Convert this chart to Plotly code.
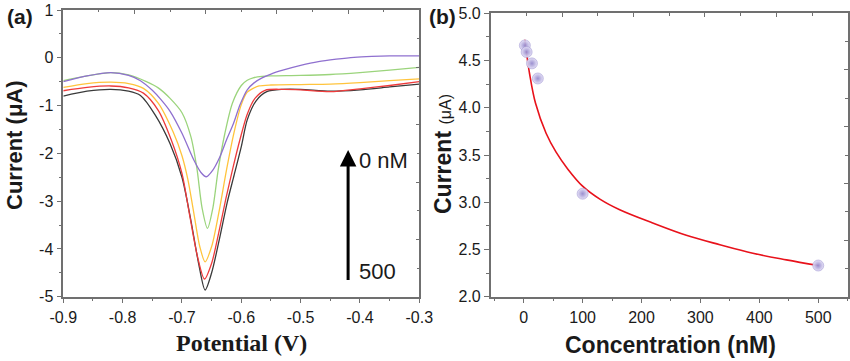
import plotly.graph_objects as go

# ---------------- Panel (a): DPV curves ----------------
pot_500 = [-0.9, -0.86, -0.82, -0.79, -0.77, -0.745, -0.72, -0.70, -0.685, -0.672, -0.661, -0.65, -0.637,
           -0.624, -0.612, -0.60, -0.59, -0.575, -0.557, -0.53, -0.5, -0.45, -0.4, -0.35, -0.3]
cur_500 = [-0.80, -0.70, -0.66, -0.70, -0.79, -1.20, -1.80, -2.50, -3.40, -4.30, -4.86, -4.50, -3.80,
           -3.04, -2.45, -1.86, -1.30, -0.90, -0.71, -0.66, -0.66, -0.70, -0.67, -0.61, -0.55]

pot_red = [-0.9, -0.86, -0.82, -0.79, -0.765, -0.74, -0.718, -0.70, -0.687, -0.674, -0.662, -0.65, -0.638,
           -0.626, -0.614, -0.602, -0.59, -0.577, -0.56, -0.53, -0.5, -0.45, -0.4, -0.35, -0.3]
cur_red = [-0.69, -0.62, -0.59, -0.63, -0.74, -1.10, -1.72, -2.42, -3.30, -4.15, -4.63, -4.30, -3.66,
           -2.95, -2.30, -1.70, -1.18, -0.85, -0.68, -0.66, -0.67, -0.71, -0.65, -0.58, -0.50]

pot_yel = [-0.9, -0.86, -0.82, -0.79, -0.765, -0.74, -0.715, -0.70, -0.69, -0.68, -0.67, -0.661, -0.65,
           -0.638, -0.625, -0.612, -0.60, -0.59, -0.58, -0.57, -0.55, -0.5, -0.45, -0.4, -0.35, -0.3]
cur_yel = [-0.62, -0.54, -0.51, -0.54, -0.64, -0.95, -1.55, -2.05, -2.55, -3.25, -3.95, -4.27, -3.95,
           -3.25, -2.35, -1.55, -0.98, -0.72, -0.64, -0.59, -0.57, -0.56, -0.55, -0.52, -0.48, -0.44]

pot_grn = [-0.9, -0.86, -0.82, -0.79, -0.76, -0.74, -0.72, -0.70, -0.685, -0.675, -0.666, -0.657, -0.648,
           -0.639, -0.628, -0.615, -0.60, -0.59, -0.58, -0.565, -0.55, -0.5, -0.45, -0.4, -0.35, -0.3]
cur_grn = [-0.48, -0.38, -0.31, -0.36, -0.50, -0.63, -0.85, -1.15, -1.65, -2.30, -3.15, -3.57, -3.15,
           -2.35, -1.60, -0.95, -0.58, -0.47, -0.42, -0.39, -0.38, -0.37, -0.35, -0.31, -0.26, -0.20]

pot_pur = [-0.9, -0.86, -0.82, -0.79, -0.77, -0.75, -0.735, -0.72, -0.70, -0.68, -0.668, -0.659, -0.648,
           -0.636, -0.625, -0.613, -0.602, -0.59, -0.578, -0.565, -0.55, -0.53, -0.5, -0.47, -0.44, -0.41,
           -0.38, -0.35, -0.3]
cur_pur = [-0.50, -0.38, -0.31, -0.37, -0.48, -0.68, -0.88, -1.12, -1.58, -2.14, -2.40, -2.49, -2.35,
           -2.07, -1.72, -1.37, -0.98, -0.67, -0.52, -0.42, -0.34, -0.26, -0.16, -0.08, -0.03, 0.01,
           0.03, 0.04, 0.04]

a_xticks = [-0.9, -0.8, -0.7, -0.6, -0.5, -0.4, -0.3]
a_xticktext = ["-0.9", "-0.8", "-0.7", "-0.6", "-0.5", "-0.4", "-0.3"]
a_yticks = [1, 0, -1, -2, -3, -4, -5]
a_yticktext = ["1", "0", "-1", "-2", "-3", "-4", "-5"]

# ---------------- Panel (b): calibration ----------------
conc = [2, 5, 14, 24, 100, 500]
peak_cur = [4.66, 4.59, 4.47, 4.31, 3.09, 2.33]
fit_conc = [2, 5, 10, 20, 38, 55, 75, 100, 130, 163, 219, 276, 333, 389, 446, 500]
fit_cur = [4.72, 4.57, 4.36, 4.05, 3.73, 3.53, 3.35, 3.17, 3.03, 2.92, 2.78, 2.65, 2.55, 2.46, 2.39, 2.33]
b_xticks = [0, 100, 200, 300, 400, 500]
b_yticks = [2.0, 2.5, 3.0, 3.5, 4.0, 4.5, 5.0]

AX = "#707070"
TXT = "#1a1a1a"
TICKFONT = dict(family="Liberation Sans, Arial", size=16, color=TXT)

fig = go.Figure()

curves = [
    (pot_500, cur_500, "#3a3a3a"),
    (pot_red, cur_red, "#ee3b3b"),
    (pot_yel, cur_yel, "#ffc43d"),
    (pot_grn, cur_grn, "#9bd47c"),
    (pot_pur, cur_pur, "#8f70cf"),
]
for px, py, col in curves:
    fig.add_trace(go.Scatter(x=px, y=py, mode="lines", line=dict(color=col, width=1.3, shape="spline", smoothing=0.8),
                             xaxis="x", yaxis="y", showlegend=False, hoverinfo="skip"))

fig.add_trace(go.Scatter(x=fit_conc, y=fit_cur, mode="lines",
                         line=dict(color="#e8121b", width=1.6, shape="spline", smoothing=1.0),
                         xaxis="x2", yaxis="y2", showlegend=False))
fig.add_trace(go.Scatter(x=conc, y=peak_cur, mode="markers",
                         marker=dict(size=11, color="rgba(228,224,246,0.95)",
                                     gradient=dict(type="radial", color="rgba(150,138,205,0.95)"),
                                     line=dict(width=0.6, color="rgba(150,140,205,0.8)")),
                         xaxis="x2", yaxis="y2", showlegend=False))

# empty traces so that overlay (mirror) axes get drawn
fig.add_trace(go.Scatter(x=[], y=[], xaxis="x3", yaxis="y", showlegend=False))
fig.add_trace(go.Scatter(x=[], y=[], xaxis="x", yaxis="y3", showlegend=False))
fig.add_trace(go.Scatter(x=[], y=[], xaxis="x4", yaxis="y2", showlegend=False))
fig.add_trace(go.Scatter(x=[], y=[], xaxis="x2", yaxis="y4", showlegend=False))

W, H = 850, 361
dom_ax = [63.3 / W, 419.3 / W]
dom_ay = [1 - 296.7 / H, 1 - 10 / H]
dom_bx = [490.7 / W, 847.7 / W]
dom_by = [1 - 296.7 / H, 1 - 13.3 / H]

base = dict(showgrid=False, zeroline=False, showline=True, linecolor=AX, linewidth=1.5,
            ticks="outside", ticklen=5, tickwidth=1.2, tickcolor=AX, tickfont=TICKFONT, automargin=False)
mirror = dict(showgrid=False, zeroline=False, showline=True, linecolor=AX, linewidth=1.5,
              ticks="inside", ticklen=4, tickwidth=1.2, tickcolor=AX, showticklabels=False,
              range=[0, 10], tick0=0, dtick=2, automargin=False,
              minor=dict(dtick=1, ticks="inside", ticklen=2.5, tickcolor=AX, tickwidth=1))

fig.update_layout(
    width=W, height=H, margin=dict(l=0, r=0, t=0, b=0, pad=0, autoexpand=False),
    paper_bgcolor="white", plot_bgcolor="white",
    xaxis=dict(base, domain=dom_ax, anchor="y", range=[-0.9, -0.3], tickvals=a_xticks, ticktext=a_xticktext,
               minor=dict(dtick=0.05, tick0=-0.9, ticks="outside", ticklen=3, tickcolor=AX)),
    yaxis=dict(base, domain=dom_ay, anchor="x", range=[-5, 1], tickvals=a_yticks, ticktext=a_yticktext,
               minor=dict(dtick=0.5, tick0=0, ticks="outside", ticklen=3, tickcolor=AX)),
    xaxis2=dict(base, domain=dom_bx, anchor="y2", range=[-56, 550], tickvals=b_xticks,
                minor=dict(dtick=50, tick0=0, ticks="outside", ticklen=3, tickcolor=AX)),
    yaxis2=dict(base, domain=dom_by, anchor="x2", range=[2, 5], tickvals=b_yticks, tickformat=".1f",
                minor=dict(dtick=0.25, tick0=2, ticks="outside", ticklen=3, tickcolor=AX)),
    xaxis3=dict(mirror, overlaying="x", side="top", anchor="y"),
    yaxis3=dict(mirror, overlaying="y", side="right", anchor="x"),
    xaxis4=dict(mirror, overlaying="x2", side="top", anchor="y2"),
    yaxis4=dict(mirror, overlaying="y2", side="right", anchor="x2"),
)

C = dict(xanchor="center", yanchor="middle", showarrow=False, xref="paper", yref="paper")
ann = []
# arrow in panel (a)
ann.append(dict(x=-0.42, y=-1.93, ax=-0.42, ay=-4.68, xref="x", yref="y", axref="x", ayref="y",
                showarrow=True, arrowhead=2, arrowsize=1.1, arrowwidth=3, arrowcolor="black", text=""))
ann.append(dict(x=-0.405, y=-2.14, xref="x", yref="y", text="0 nM", showarrow=False, xanchor="left",
                yanchor="middle", font=dict(family="Liberation Sans, Arial", size=22, color=TXT)))
ann.append(dict(x=-0.405, y=-4.47, xref="x", yref="y", text="500", showarrow=False, xanchor="left",
                yanchor="middle", font=dict(family="Liberation Sans, Arial", size=22, color=TXT)))
# axis titles
ann.append(dict(C, x=241.7 / W, y=1 - 343 / H, text="<b>Potential (V)</b>",
                font=dict(family="Liberation Serif, Times New Roman", size=24, color=TXT)))
ann.append(dict(C, x=15 / W, y=1 - 145 / H, text="<b>Current (μA)</b>", textangle=-90,
                font=dict(family="Liberation Sans, Arial", size=22, color=TXT)))
ann.append(dict(C, x=670 / W, y=1 - 345 / H, text="<b>Concentration (nM)</b>",
                font=dict(family="Liberation Sans, Arial", size=23, color=TXT)))
ann.append(dict(C, x=443 / W, y=1 - 154 / H,
                text="<b>Current </b><span style='font-size:16px'>(μA)</span>", textangle=-90,
                font=dict(family="Liberation Sans, Arial", size=23, color=TXT)))
# panel labels
ann.append(dict(C, x=20 / W, y=1 - 17 / H, text="<b>(a)</b>",
                font=dict(family="Liberation Sans, Arial", size=21, color=TXT)))
ann.append(dict(C, x=442 / W, y=1 - 17 / H, text="<b>(b)</b>",
                font=dict(family="Liberation Sans, Arial", size=21, color=TXT)))
fig.update_layout(annotations=ann)

fig.write_html("out.html", config={"displayModeBar": False},
               post_script="document.body.style.margin='0';document.body.style.padding='0';")
